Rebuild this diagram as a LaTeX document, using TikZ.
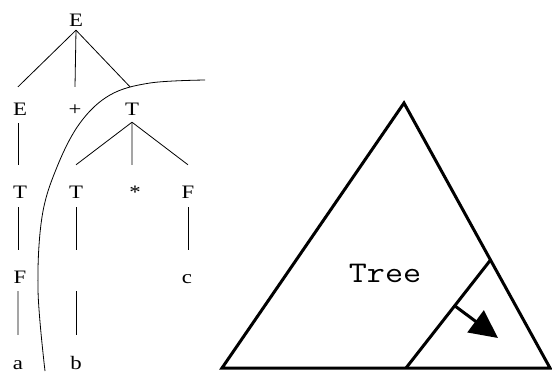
\documentclass[tikz,border=0pt]{standalone}
\usepackage{fontspec}
\setmainfont{Liberation Serif}
\usetikzlibrary{arrows.meta}
\newcommand\stretchlab[1]{\scalebox{1.2}[1]{#1}}
\begin{document}
\begin{tikzpicture}[x=1bp,y=-1bp,
  lab/.style={anchor=base,inner sep=0pt,text height=12.5bp,text depth=0pt,font=\fontsize{19bp}{21bp}\selectfont},
  tl/.style={line width=0.8bp},
  thick3/.style={line width=3bp,line join=miter}]
\useasboundingbox (0,0) rectangle (552,373);
% parse tree labels
\node[lab] (Etop) at (76,26) {\stretchlab{E}};
\node[lab] (E2) at (20,115) {\stretchlab{E}};
\node[lab] (plus) at (75,115) {\stretchlab{+}};
\node[lab] (T2) at (132,115) {\stretchlab{T}};
\node[lab] (T3a) at (20,198) {\stretchlab{T}};
\node[lab] (T3b) at (76,198) {\stretchlab{T}};
\node[lab] (star) at (135,198) {\stretchlab{*}};
\node[lab] (F3) at (188,198) {\stretchlab{F}};
\node[lab] (F4) at (20,283) {\stretchlab{F}};
\node[lab] (X4) at (76,283) {};
\node[lab] (c4) at (187,283) {\stretchlab{c}};
\node[lab] (a5) at (18,369) {\stretchlab{a}};
\node[lab] (b5) at (76,369) {\stretchlab{b}};
% tree edges
\draw[tl] ([yshift=-4bp]Etop.south) -- ([xshift=-2bp,yshift=15.5bp]E2.north);
\draw[tl] ([yshift=-4bp]Etop.south) -- ([yshift=15.5bp]plus.north);
\draw[tl] ([yshift=-4bp]Etop.south) -- ([xshift=-2bp,yshift=15.5bp]T2.north);
\draw[tl] ([xshift=-2bp,yshift=-8bp]E2.south) -- ([xshift=-2bp,yshift=20.5bp]T3a.north);
\draw[tl] ([yshift=-7bp]T2.south) -- ([yshift=20.5bp]T3b.north);
\draw[tl] ([yshift=-7bp]T2.south) -- ([xshift=-3bp,yshift=20.5bp]star.north);
\draw[tl] ([yshift=-7bp]T2.south) -- ([yshift=20.5bp]F3.north);
\draw[tl] ([xshift=-2bp,yshift=-9bp]T3a.south) -- ([xshift=-2bp,yshift=20.5bp]F4.north);
\draw[tl] ([yshift=-9bp]T3b.south) -- ([yshift=20.5bp]X4.north);
\draw[tl] ([yshift=-9bp]F3.south) -- ([xshift=1bp,yshift=20.5bp]c4.north);
\draw[tl] ([xshift=-2bp,yshift=-8bp]F4.south) -- ([yshift=21.5bp]a5.north);
\draw[tl] ([yshift=-8bp]X4.south) -- ([yshift=21.5bp]b5.north);
% cut curve
\draw[tl] plot[smooth,tension=0.6] coordinates {(45,371) (38,290) (42,217) (57,167) (80,123) (110,95) (150,83) (205,80)};
% triangle
\coordinate (apex) at (404,103);
\coordinate (bl) at (222,368);
\coordinate (br) at (550,368);
\draw[thick3] (apex) -- (bl) -- (br) -- cycle;
\coordinate (inB) at (406,368);
\coordinate (inT) at (490.5,260);
\draw[thick3] (inB) -- (inT);
\coordinate (arS) at (455,306);
\coordinate (arE) at (498,338);
\draw[thick3,-{Triangle[length=28bp,width=27bp]}] (arS) -- (arE);
\node[anchor=base,inner sep=0pt,font=\ttfamily\fontsize{30bp}{32bp}\selectfont] (tree) at (385,282) {\scalebox{1.17}[1]{Tree}};
\end{tikzpicture}
\end{document}
